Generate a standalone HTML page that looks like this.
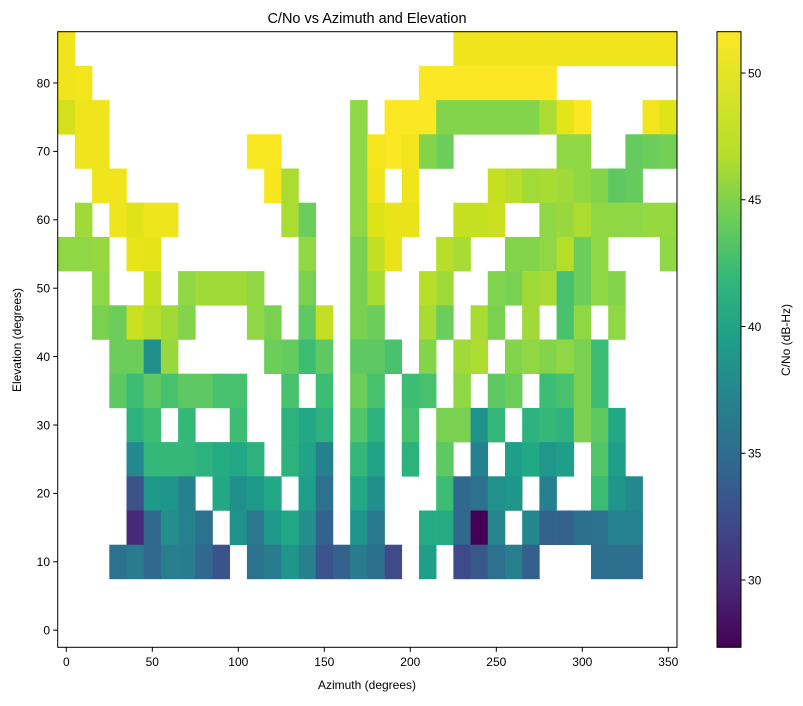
<!DOCTYPE html>
<html><head><meta charset="utf-8"><style>
html,body{margin:0;padding:0;background:#fff;}
svg text{font-family:"Liberation Sans","DejaVu Sans",sans-serif;fill:#000;}
</style></head><body>
<svg id="s" width="803" height="701" xmlns="http://www.w3.org/2000/svg">
<defs><linearGradient id="vir" x1="0" y1="1" x2="0" y2="0">
<stop offset="0" stop-color="#440154"/><stop offset="0.1" stop-color="#482878"/><stop offset="0.2" stop-color="#3e4989"/><stop offset="0.3" stop-color="#31688e"/><stop offset="0.4" stop-color="#26828e"/><stop offset="0.5" stop-color="#1f9e89"/><stop offset="0.6" stop-color="#35b779"/><stop offset="0.7" stop-color="#6ece58"/><stop offset="0.8" stop-color="#b5de2b"/><stop offset="1" stop-color="#fde725"/>
</linearGradient></defs>
<g id="cells"></g>
<rect x="57.7" y="31.7" width="619.3" height="615.6" fill="none" stroke="#000" stroke-width="1"/>
<g id="ticks" stroke="#000" stroke-width="1"></g>
<g id="labels" font-size="12"></g>
<text x="367" y="23" font-size="14.5" text-anchor="middle">C/No vs Azimuth and Elevation</text>
<text x="367" y="689" font-size="12" text-anchor="middle">Azimuth (degrees)</text>
<text x="21" y="340" font-size="12" text-anchor="middle" transform="rotate(-90 21 340)">Elevation (degrees)</text>
<rect x="717" y="31.7" width="24" height="615.6" fill="url(#vir)" stroke="#000" stroke-width="1"/>
<text x="790" y="340" font-size="12" text-anchor="middle" transform="rotate(-90 790 340)">C/No (dB-Hz)</text>
<text x="0" y="0"></text>
</svg>
<script>
var Y='fbe723',y='f0e51c';
var rows=[
"0=f0e51c,23-35=f0e51c",
"0=f0e51c,1=f2e51d,21-28=fbe723",
"0=d4e01a,1=f0e51c,2=f0e51c,17=8fd744,19-21=fbe723,22-27=83d34b,28=aadc32,29=e4e419,30=fbe723,34=f2e51d,35=e0e318",
"1=f0e51c,2=f0e51c,11=f8e621,12=f8e621,17=8fd744,18=f5e61e,19=fbe723,20=f2e51d,21=83d34b,22=6ccd5a,29=8fd744,30=8fd744,33=65cb5e,34=6ccd5a,35=73d056",
"2=f0e51c,3=f0e51c,12=f5e61e,13=aadc32,17=8fd744,18=f0e51c,20=f0e51c,25=c5e021,26=b8de29,27=a2da37,28=a8db34,29=a0da39,30=8fd744,31=84d44b,32=5ec962,33=65cb5e",
"1=a0da39,3=f0e51c,4=e0e318,5=efe51c,6=eee51c,13=aadc32,14=6ccd5a,17=8fd744,18=dde318,19=e8e419,20=e8e419,23=c5e021,24=c5e021,25=c8e020,28=8fd744,29=98d83e,30=addc30,31-33=8fd744,34=95d840,35=95d840",
"0=8fd744,1=8fd744,2=95d840,4=e8e419,5=e4e419,14=8fd744,17=7ad151,18=c2df23,19=e8e419,22=b8de29,23=a8db34,26=84d44b,27=84d44b,28=8fd744,29=b5de2b,30=6ccd5a,31=8fd744,35=8fd744",
"2=8fd744,5=c5e021,7=8fd744,8-10=a0da39,11=8fd744,14=7ad151,17=7ad151,18=a8db34,21=b8de29,22=a0da39,25=7fd34e,26=7ad151,27=a0da39,28=a8db34,29=48c16e,30=6ccd5a,31=8fd744,32=84d44b",
"2=7ad151,3=6ccd5a,4=c8e020,5=b5de2b,6=a0da39,7=84d44b,11=8fd744,12=7ad151,14=5ec962,15=c2df23,17=7ad151,18=6ccd5a,21=a8db34,22=6ccd5a,24=a8db34,25=7ad151,27=a0da39,29=4ac16d,30=8fd744,32=8fd744",
"3=6ccd5a,4=6ccd5a,5=21908d,6=98d83e,12=6ccd5a,13=65cb5e,14=3dbc74,15=5ec962,17=5ec962,18=5ec962,19=4ac16d,21=84d44b,23=a0da39,24=addc30,26=84d44b,27=8fd744,28=84d44b,29=8fd744,30=7ad151,31=3dbc74",
"3=5ec962,4=3dbc74,5=5ec962,6=48c16e,7=5ec962,8=5ec962,9=48c16e,10=48c16e,13=48c16e,15=3dbc74,17=6ccd5a,18=48c16e,20=3dbc74,21=48c16e,23=8fd744,25=5ec962,26=6ccd5a,28=3dbc74,29=48c16e,30=7ad151,31=3dbc74",
"4=2db27d,5=3dbc74,7=35b779,10=3dbc74,13=2db27d,14=22a884,15=2db27d,17=52c569,18=2db27d,20=48c16e,22=7ad151,23=7ad151,24=21918c,25=35b779,27=2db27d,28=35b779,29=2db27d,30=7ad151,31=5ec962,32=22a884",
"4=23898e,5=35b779,6=35b779,7=35b779,8=2db27d,9=25ab82,10=22a884,11=2db27d,13=2db27d,14=20a386,15=26818e,17=35b779,18=20a386,20=2db27d,22=5ec962,24=26818e,26=1f9e89,27=22a884,28=1f978b,29=1f9e89,31=52c569,32=1f9e89",
"4=3b528b,5=1f998a,6=1f968b,7=26818e,9=22a884,10=21908d,11=1f9a8a,12=22a884,14=1f9e89,15=2c728e,17=22a884,18=21908d,22=3dbc74,23=31688e,24=2c728e,25=21918c,26=1f968b,28=26818e,31=3dbc74,32=1f968b,33=23898e",
"4=482878,5=31688e,6=21908d,7=26828e,8=2c728e,10=21918c,11=2a788e,12=1f9a8a,13=22a884,14=21908d,15=33638d,17=1f968b,18=2a788e,21=25ab82,22=25ab82,23=31688e,24=440154,25=25848e,27=24868e,28=33638d,29=33638d,30=2d708e,31=2c728e,32=26828e,33=26828e",
"3=2c728e,4=297b8e,5=31688e,6=277f8e,7=297b8e,8=31688e,9=3b528b,11=2c728e,12=297b8e,13=1f968b,14=27808e,15=3a548c,16=33638d,17=287c8e,18=2d708e,19=3e4a89,21=1f9e89,23=3e4a89,24=38588c,25=2c728e,26=277f8e,27=355f8d,31=2e6e8e,32=2d708e,33=2e6e8e"
];
var NS="http://www.w3.org/2000/svg",g=document.getElementById('cells');
var X0=57.7,CW=619.3/36,Y0=31.7,RH=615.6/18;
function R(x,yy,w,h,f,p){var r=document.createElementNS(NS,'rect');r.setAttribute('x',x);r.setAttribute('y',yy);r.setAttribute('width',w);r.setAttribute('height',h);r.setAttribute('fill',f);p.appendChild(r);}
rows.forEach(function(s,ri){s.split(',').forEach(function(t){var p=t.split('='),c=p[1],rg=p[0].split('-');var a=+rg[0],b=rg.length>1?+rg[1]:a;for(var k=a;k<=b;k++)R(X0+k*CW,Y0+ri*RH,CW+0.3,RH+0.3,'#'+c,g);});});
var tk=document.getElementById('ticks'),lb=document.getElementById('labels');
function L(x1,y1,x2,y2){var l=document.createElementNS(NS,'line');l.setAttribute('x1',x1);l.setAttribute('y1',y1);l.setAttribute('x2',x2);l.setAttribute('y2',y2);tk.appendChild(l);}
function T(x,yy,s,a){var t=document.createElementNS(NS,'text');t.setAttribute('x',x);t.setAttribute('y',yy);t.setAttribute('text-anchor',a);t.textContent=s;lb.appendChild(t);}
for(var v=0;v<=350;v+=50){var x=66.3+1.72*v;L(x,647.3,x,651.8);T(x,666,v,'middle');}
for(var v=0;v<=80;v+=10){var yy=647.3-(v+2.5)*6.84;L(57.7,yy,53.2,yy);T(50,yy+4.3,v,'end');}
for(var v=30;v<=50;v+=5){var yy=73+(50-v)*25.35;L(741,yy,745.5,yy);T(748,yy+4.3,v,'start');}
</script>
</body></html>
